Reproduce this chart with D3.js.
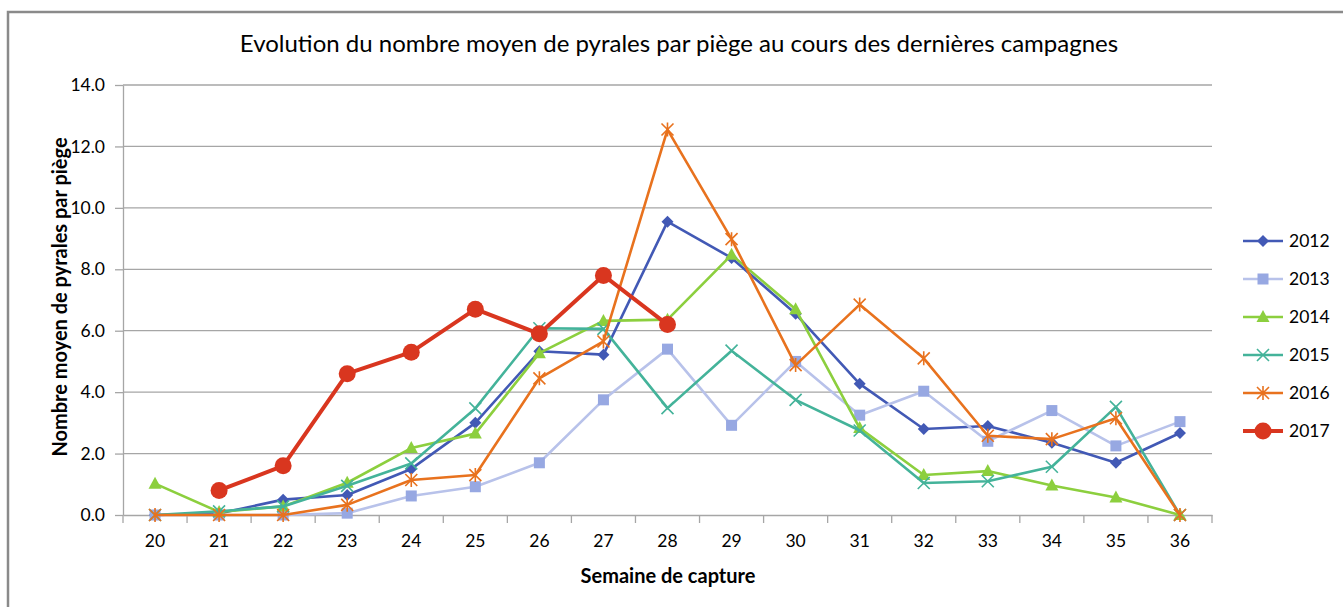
<!DOCTYPE html>
<html>
<head>
<meta charset="utf-8">
<script src="https://cdn.jsdelivr.net/npm/d3@7"></script>
<style>
  body { margin: 0; background: #fff; }
  svg { display: block; font-family: Lato, "Open Sans", sans-serif; }
</style>
</head>
<body>
<div id="chart"></div>
<script>
// semaines de capture
const weeks = [20, 21, 22, 23, 24, 25, 26, 27, 28, 29, 30, 31, 32, 33, 34, 35, 36];
const yTicks = [0, 2, 4, 6, 8, 10, 12, 14];

const y2012 = [0, 0.05, 0.5, 0.65, 1.5, 3.0, 5.33, 5.22, 9.55, 8.37, 6.55, 4.27, 2.8, 2.9, 2.35, 1.7, 2.67];
const y2013 = [0, 0, 0, 0.06, 0.62, 0.92, 1.7, 3.75, 5.4, 2.92, 5.0, 3.25, 4.03, 2.4, 3.4, 2.25, 3.04];
const y2014 = [1.02, 0.1, 0.28, 1.05, 2.18, 2.65, 5.27, 6.32, 6.36, 8.47, 6.7, 2.83, 1.3, 1.43, 0.96, 0.57, 0];
const y2015 = [0, 0.12, 0.28, 0.95, 1.68, 3.47, 6.08, 6.06, 3.48, 5.35, 3.75, 2.75, 1.04, 1.1, 1.57, 3.52, 0];
const y2016 = [0, 0, 0, 0.33, 1.14, 1.3, 4.45, 5.65, 12.55, 8.98, 4.88, 6.85, 5.1, 2.58, 2.47, 3.15, 0];
const y2017 = [null, 0.8, 1.6, 4.6, 5.3, 6.7, 5.9, 7.8, 6.2, null, null, null, null, null, null, null, null];

const series = [
  { name: "2012", values: y2012, color: "#4259b5", fill: "#4259b5", marker: "diamond", width: 2.6 },
  { name: "2013", values: y2013, color: "#b8c2ea", fill: "#97a8e2", marker: "square", width: 2.6 },
  { name: "2014", values: y2014, color: "#8ccf3e", fill: "#8ccf3e", marker: "triangle", width: 2.6 },
  { name: "2015", values: y2015, color: "#44b39a", fill: "#44b39a", marker: "x", width: 2.6 },
  { name: "2016", values: y2016, color: "#e8721e", fill: "#e8721e", marker: "star", width: 2.6 },
  { name: "2017", values: y2017, color: "#d9361f", fill: "#d9361f", marker: "circle", width: 4 }
];

const width = 1343, height = 607;
const plot = { left: 123, right: 1212, top: 85, bottom: 515 };

const svg = d3.select("#chart").append("svg")
  .attr("width", width)
  .attr("height", height);

// cadre du graphique
svg.append("rect")
  .attr("x", 8).attr("y", 12)
  .attr("width", 1400).attr("height", 700)
  .attr("fill", "none")
  .attr("stroke", "#8a8a8a")
  .attr("stroke-width", 2.5);

svg.append("text")
  .attr("x", 679).attr("y", 52)
  .attr("text-anchor", "middle")
  .attr("font-size", "24px")
  .attr("fill", "#000")
  .text("Evolution du nombre moyen de pyrales par piège au cours des dernières campagnes");

const x = d3.scaleBand()
  .domain(weeks)
  .range([plot.left, plot.right])
  .padding(0);

const y = d3.scaleLinear()
  .domain([0, 14])
  .range([plot.bottom, plot.top]);

const cx = w => x(w) + x.bandwidth() / 2;

// grille
svg.append("g")
  .selectAll("line")
  .data(yTicks.filter(d => d > 0))
  .join("line")
  .attr("x1", plot.left).attr("x2", plot.right)
  .attr("y1", d => y(d)).attr("y2", d => y(d))
  .attr("stroke", "#a6a6a6")
  .attr("stroke-width", 1.3);

const leftAxis = d3.axisLeft(y)
  .tickValues(yTicks)
  .tickFormat(d3.format(".1f"))
  .tickSize(8)
  .tickPadding(10)
  .tickSizeOuter(0);

const gy = svg.append("g")
  .attr("transform", `translate(${plot.left},0)`)
  .call(leftAxis);
gy.select(".domain").attr("stroke", "#a6a6a6").attr("stroke-width", 1.3);
gy.selectAll(".tick line").attr("stroke", "#a6a6a6").attr("stroke-width", 1.3);
gy.selectAll(".tick text")
  .attr("font-family", "Lato, sans-serif")
  .attr("font-size", "17.5px")
  .attr("fill", "#000");

const bottomAxis = d3.axisBottom(x)
  .tickSize(0)
  .tickPadding(20)
  .tickSizeOuter(0);

const gx = svg.append("g")
  .attr("transform", `translate(0,${plot.bottom})`)
  .call(bottomAxis);
gx.select(".domain").attr("stroke", "#a6a6a6").attr("stroke-width", 1.3);
gx.selectAll(".tick text")
  .attr("font-family", "Lato, sans-serif")
  .attr("font-size", "17.5px")
  .attr("fill", "#000");

// graduations entre les catégories
const edges = weeks.map(w => x(w)).concat([x(weeks[weeks.length - 1]) + x.bandwidth()]);
gx.append("g")
  .selectAll("line")
  .data(edges)
  .join("line")
  .attr("x1", d => d).attr("x2", d => d)
  .attr("y1", 0).attr("y2", 8)
  .attr("stroke", "#a6a6a6")
  .attr("stroke-width", 1.3);

svg.append("text")
  .attr("transform", `translate(67,${(plot.top + plot.bottom) / 2 - 3}) rotate(-90)`)
  .attr("text-anchor", "middle")
  .attr("font-size", "20px")
  .attr("font-weight", "bold")
  .attr("fill", "#000")
  .text("Nombre moyen de pyrales par piège");

svg.append("text")
  .attr("x", 668).attr("y", 583)
  .attr("text-anchor", "middle")
  .attr("font-size", "20px")
  .attr("font-weight", "bold")
  .attr("fill", "#000")
  .text("Semaine de capture");

function drawMarker(g, type, color, fill) {
  if (type === "diamond") {
    g.append("path").attr("d", "M0,-6L6,0L0,6L-6,0Z").attr("fill", fill);
  } else if (type === "square") {
    g.append("rect").attr("x", -5.5).attr("y", -5.5).attr("width", 11).attr("height", 11).attr("fill", fill);
  } else if (type === "triangle") {
    g.append("path").attr("d", "M0,-7L6.5,5L-6.5,5Z").attr("fill", fill);
  } else if (type === "x") {
    g.append("path").attr("d", "M-6,-6L6,6M-6,6L6,-6").attr("stroke", color).attr("stroke-width", 1.6);
  } else if (type === "star") {
    g.append("path").attr("d", "M-6,-6L6,6M-6,6L6,-6M0,-7L0,7").attr("stroke", color).attr("stroke-width", 1.6);
  } else if (type === "circle") {
    g.append("circle").attr("r", 8.5).attr("fill", fill);
  }
}

const line = d3.line()
  .defined(d => d.v !== null)
  .x(d => cx(d.w))
  .y(d => y(d.v));

series.forEach(s => {
  const pts = weeks.map((w, i) => ({ w: w, v: s.values[i] }));
  svg.append("path")
    .datum(pts)
    .attr("d", line)
    .attr("fill", "none")
    .attr("stroke", s.color)
    .attr("stroke-width", s.width)
    .attr("stroke-linejoin", "round");

  pts.filter(d => d.v !== null).forEach(d => {
    const g = svg.append("g").attr("transform", `translate(${cx(d.w)},${y(d.v)})`);
    drawMarker(g, s.marker, s.color, s.fill);
  });
});

// légende
const legend = svg.append("g").attr("transform", "translate(1243,241)");
series.forEach((s, i) => {
  const row = legend.append("g").attr("transform", `translate(0,${i * 38})`);
  row.append("line")
    .attr("x1", 0).attr("x2", 40)
    .attr("stroke", s.color)
    .attr("stroke-width", s.width);
  const m = row.append("g").attr("transform", "translate(20,0)");
  drawMarker(m, s.marker, s.color, s.fill);
  row.append("text")
    .attr("x", 46).attr("y", 6)
    .attr("font-size", "17.5px")
    .attr("fill", "#000")
    .text(s.name);
});
</script>
</body>
</html>
